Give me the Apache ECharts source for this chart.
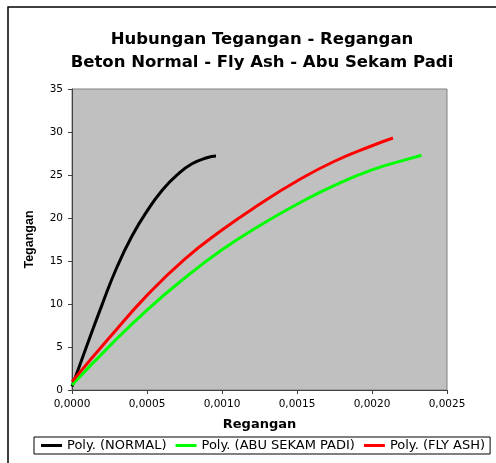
<!DOCTYPE html>
<html>
<head>
<meta charset="utf-8">
<script src="https://cdn.jsdelivr.net/npm/echarts@6/dist/echarts.min.js"></script>
<style>
  html, body { margin: 0; padding: 0; background: #fff; }
  #chart { width: 496px; height: 463px; }
</style>
</head>
<body>
<div id="chart"></div>
<script>
// data (regangan / tegangan)
var normalX = [0, 0.0001, 0.0002, 0.0003, 0.0004, 0.0005, 0.0006, 0.0007, 0.0008, 0.0009, 0.00096];
var normalY = [0.4, 5.2, 9.9, 14.3, 17.9, 20.8, 23.2, 25.0, 26.3, 27.0, 27.2];
var flyAshX = [0, 0.00025, 0.0005, 0.00075, 0.001, 0.00125, 0.0015, 0.00175, 0.002, 0.00214];
var flyAshY = [0.97, 6.1, 11.0, 15.2, 18.6, 21.6, 24.3, 26.6, 28.4, 29.3];
var sekamX = [0, 0.00025, 0.0005, 0.00075, 0.001, 0.00125, 0.0015, 0.00175, 0.002, 0.00225, 0.00233];
var sekamY = [0.58, 5.1, 9.3, 13.0, 16.3, 19.1, 21.6, 23.8, 25.6, 26.9, 27.3];
var seriesNames = ["Poly. (NORMAL)", "Poly. (ABU SEKAM PADI)", "Poly. (FLY ASH)"];

function pairs(xs, ys) {
  return xs.map(function (x, i) { return [x, ys[i]]; });
}

var chart = echarts.init(document.getElementById("chart"));
var wide = "DejaVu Sans, sans-serif";
var arial = "Liberation Sans, Arial, sans-serif";

var option = {
  animation: false,
  textStyle: { fontFamily: wide },
  title: {
    text: "Hubungan Tegangan - Regangan\nBeton Normal - Fly Ash - Abu Sekam Padi",
    left: 257,
    textAlign: "center",
    top: 23,
    textStyle: { fontSize: 16.5, fontWeight: "bold", color: "#000", lineHeight: 23, fontFamily: wide }
  },
  graphic: [{
    type: "rect",
    z: -1,
    shape: { x: 8, y: 7, width: 600, height: 600 },
    style: { fill: "none", stroke: "#000", lineWidth: 1.5 }
  }],
  legend: {
    data: seriesNames,
    left: 34,
    top: 437,
    orient: "horizontal",
    icon: "rect",
    itemWidth: 21,
    itemHeight: 3,
    itemGap: 9,
    padding: [2, 5, 2, 7],
    borderColor: "#000",
    borderWidth: 1,
    textStyle: { fontSize: 13, color: "#000", fontFamily: wide }
  },
  grid: {
    left: 72, right: 49, top: 89, bottom: 73,
    show: true,
    backgroundColor: "#c0c0c0",
    borderColor: "#808080",
    borderWidth: 1
  },
  xAxis: {
    type: "value",
    min: 0, max: 0.0025, interval: 0.0005,
    name: "Regangan",
    nameLocation: "middle",
    nameGap: 28,
    nameTextStyle: { fontSize: 13, fontWeight: "bold", color: "#000", fontFamily: wide },
    axisLine: { show: true, lineStyle: { color: "#404040", width: 1 } },
    axisTick: { show: true, length: 4, lineStyle: { color: "#404040" } },
    axisLabel: {
      fontSize: 10.5, color: "#000", margin: 9, fontFamily: wide,
      formatter: function (v) { return v.toFixed(4).replace(".", ","); }
    },
    splitLine: { show: false }
  },
  yAxis: {
    type: "value",
    min: 0, max: 35, interval: 5,
    name: "Tegangan",
    nameLocation: "middle",
    nameGap: 36,
    nameTextStyle: { fontSize: 12.5, fontWeight: "bold", color: "#000", fontFamily: arial },
    axisLine: { show: true, lineStyle: { color: "#404040", width: 1 } },
    axisTick: { show: true, length: 4, lineStyle: { color: "#404040" } },
    axisLabel: { fontSize: 10.5, color: "#000", margin: 9, fontFamily: wide },
    splitLine: { show: false }
  },
  series: [
    {
      name: seriesNames[0], type: "line", smooth: true, showSymbol: false,
      color: "#000000", lineStyle: { width: 3 },
      data: pairs(normalX, normalY)
    },
    {
      name: seriesNames[1], type: "line", smooth: true, showSymbol: false,
      color: "#00ff00", lineStyle: { width: 3 },
      data: pairs(sekamX, sekamY)
    },
    {
      name: seriesNames[2], type: "line", smooth: true, showSymbol: false,
      color: "#ff0000", lineStyle: { width: 3 },
      data: pairs(flyAshX, flyAshY)
    }
  ]
};

chart.setOption(option);
</script>
</body>
</html>
